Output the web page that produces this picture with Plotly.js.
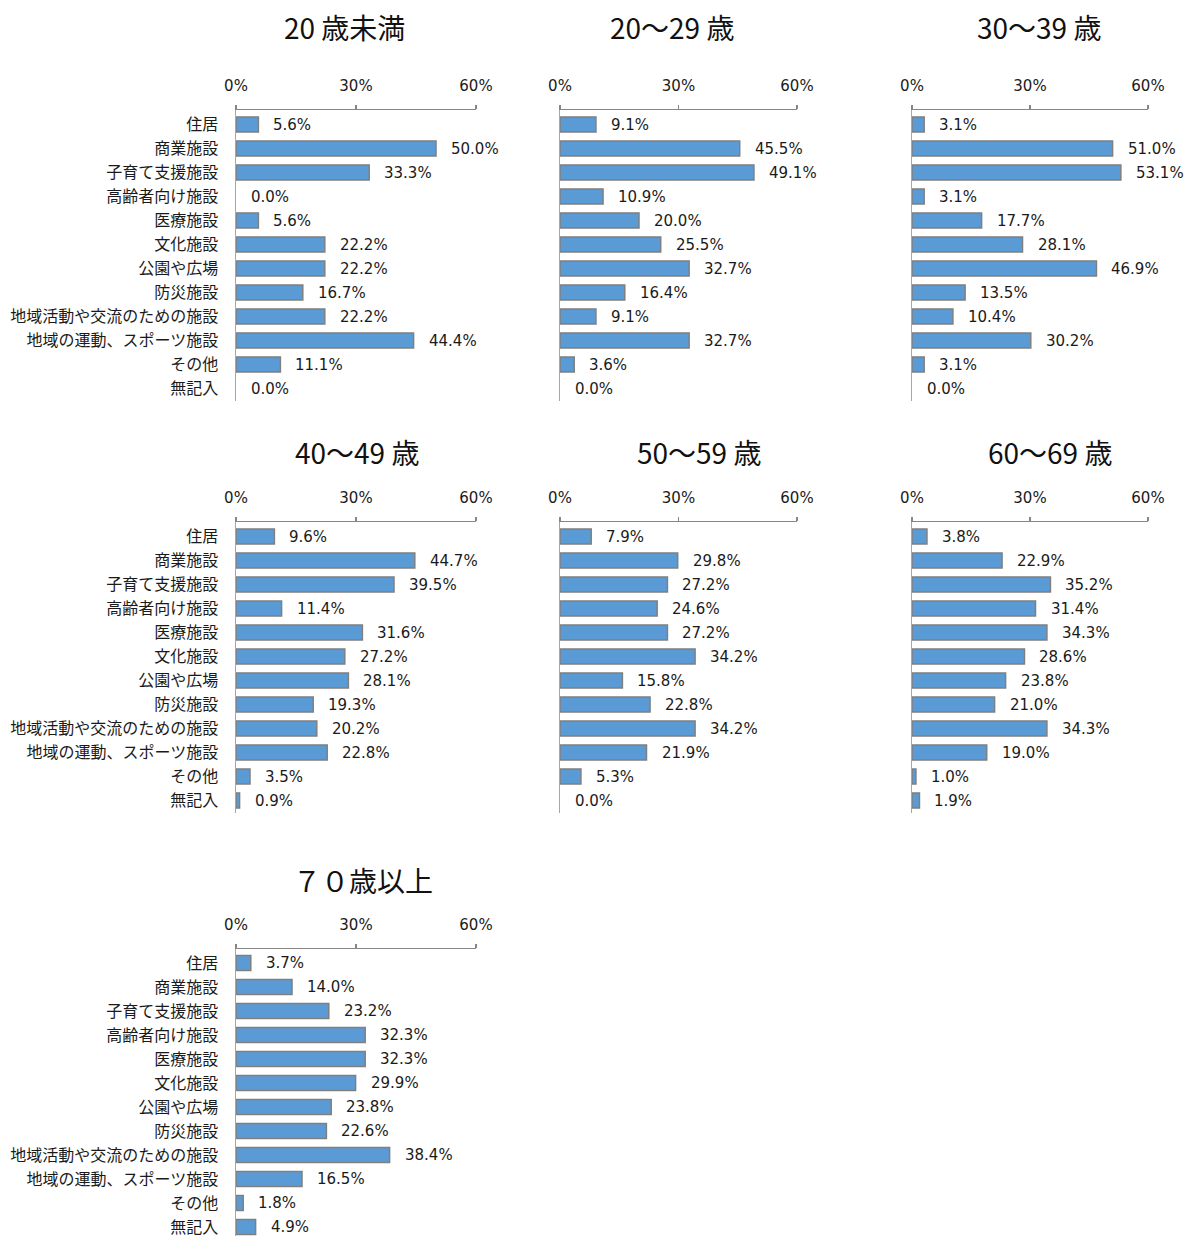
<!DOCTYPE html>
<html>
<head>
<meta charset="utf-8">
<script src="https://cdn.plot.ly/plotly-3.0.1.min.js"></script>
<style>html,body{margin:0;padding:0;background:#fff;overflow:hidden}</style>
</head>
<body>
<div id="chart" style="width:1196px;height:1236px"></div>
<script>
const categories = ["住居","商業施設","子育て支援施設","高齢者向け施設","医療施設","文化施設","公園や広場","防災施設","地域活動や交流のための施設","地域の運動、スポーツ施設","その他","無記入"];
const groupTitles = ["20 歳未満","20～29 歳","30～39 歳","40～49 歳","50～59 歳","60～69 歳","７０歳以上"];
const under20 = [5.6,50.0,33.3,0.0,5.6,22.2,22.2,16.7,22.2,44.4,11.1,0.0];
const age20s = [9.1,45.5,49.1,10.9,20.0,25.5,32.7,16.4,9.1,32.7,3.6,0.0];
const age30s = [3.1,51.0,53.1,3.1,17.7,28.1,46.9,13.5,10.4,30.2,3.1,0.0];
const age40s = [9.6,44.7,39.5,11.4,31.6,27.2,28.1,19.3,20.2,22.8,3.5,0.9];
const age50s = [7.9,29.8,27.2,24.6,27.2,34.2,15.8,22.8,34.2,21.9,5.3,0.0];
const age60s = [3.8,22.9,35.2,31.4,34.3,28.6,23.8,21.0,34.3,19.0,1.0,1.9];
const age70plus = [3.7,14.0,23.2,32.3,32.3,29.9,23.8,22.6,38.4,16.5,1.8,4.9];
const tickVals = [0,30,60];
const tickText = ["0%","30%","60%"];

const seriesList = [under20, age20s, age30s, age40s, age50s, age60s, age70plus];

const W = 1196, H = 1236;
// panel geometry in pixels
const colX = [[236,476],[560,797],[912,1148]];
const rowAxisY = [110, 522, 949];
const rowFirst = [124.5, 536.5, 963];
const titleCX = [344.7, 671.7, 1038.7, 356.7, 699, 1050, 363.3];
const titleY = [27, 27, 27, 452, 452, 452, 880];
const step = 24;

const numFmt = v => v.toFixed(1) + "%";
const fontLatin = "DejaVu Sans, Noto Sans CJK JP, sans-serif";
const fontJP = "Noto Sans CJK JP, sans-serif";

const traces = [];
const layout = {
  width: W, height: H,
  margin: {l:0, r:0, t:0, b:0},
  paper_bgcolor: "#fff", plot_bgcolor: "rgba(0,0,0,0)",
  showlegend: false,
  bargap: 0.37,
  annotations: []
};

seriesList.forEach((vals, k) => {
  const row = Math.floor(k/3), col = k % 3;
  const sfx = k === 0 ? "" : String(k+1);
  const xa = "x" + sfx, ya = "y" + sfx;
  const [x0, x1] = colX[col];
  const axisY = rowAxisY[row], c0 = rowFirst[row];
  const bottomPx = Math.min(c0 - step/2 + step*categories.length, H);
  traces.push({
    type: "bar", orientation: "h",
    x: vals, y: categories,
    xaxis: xa, yaxis: ya,
    marker: {color: "#5B9BD5", line: {color: "#7F7F7F", width: vals.map(v => v > 0 ? 1.5 : 0)}},
    hoverinfo: "skip", cliponaxis: false
  });
  layout["xaxis" + sfx] = {
    domain: [x0/W, x1/W], anchor: ya, side: "top",
    range: [0, 60], fixedrange: true,
    tickmode: "array", tickvals: tickVals, ticktext: tickText,
    ticks: "outside", ticklen: 4, tickcolor: "#868686", tickwidth: 1.3,
    showline: true, linecolor: "#868686", linewidth: 1.3,
    showgrid: false, zeroline: false,
    tickfont: {family: fontLatin, size: 15, color: "#1a1a1a"},
    ticklabelstandoff: 8
  };
  layout["yaxis" + sfx] = {
    domain: [1 - bottomPx/H, 1 - axisY/H], anchor: xa,
    type: "category", categoryorder: "array", categoryarray: categories,
    range: [(bottomPx - c0)/step, -(c0 - axisY)/step], fixedrange: true,
    showline: true, linecolor: "#A6A6A6", linewidth: 1.5,
    ticks: "", showgrid: false, zeroline: false,
    showticklabels: col === 0,
    tickfont: {family: fontJP, size: 16, color: "#1a1a1a"},
    ticklabelstandoff: 13
  };
  vals.forEach((v, i) => {
    layout.annotations.push({
      xref: xa, yref: ya, x: v, y: i,
      text: numFmt(v), showarrow: false,
      xanchor: "left", yanchor: "middle", xshift: 13,
      font: {family: fontLatin, size: 15, color: "#1a1a1a"}
    });
  });
  layout.annotations.push({
    xref: "paper", yref: "paper",
    x: titleCX[k]/W, y: 1 - titleY[k]/H,
    text: groupTitles[k], showarrow: false,
    xanchor: "center", yanchor: "middle",
    font: {family: fontJP, size: 28, color: "#111"}
  });
});

Plotly.newPlot("chart", traces, layout, {staticPlot: true, displayModeBar: false});
</script>
</body>
</html>
